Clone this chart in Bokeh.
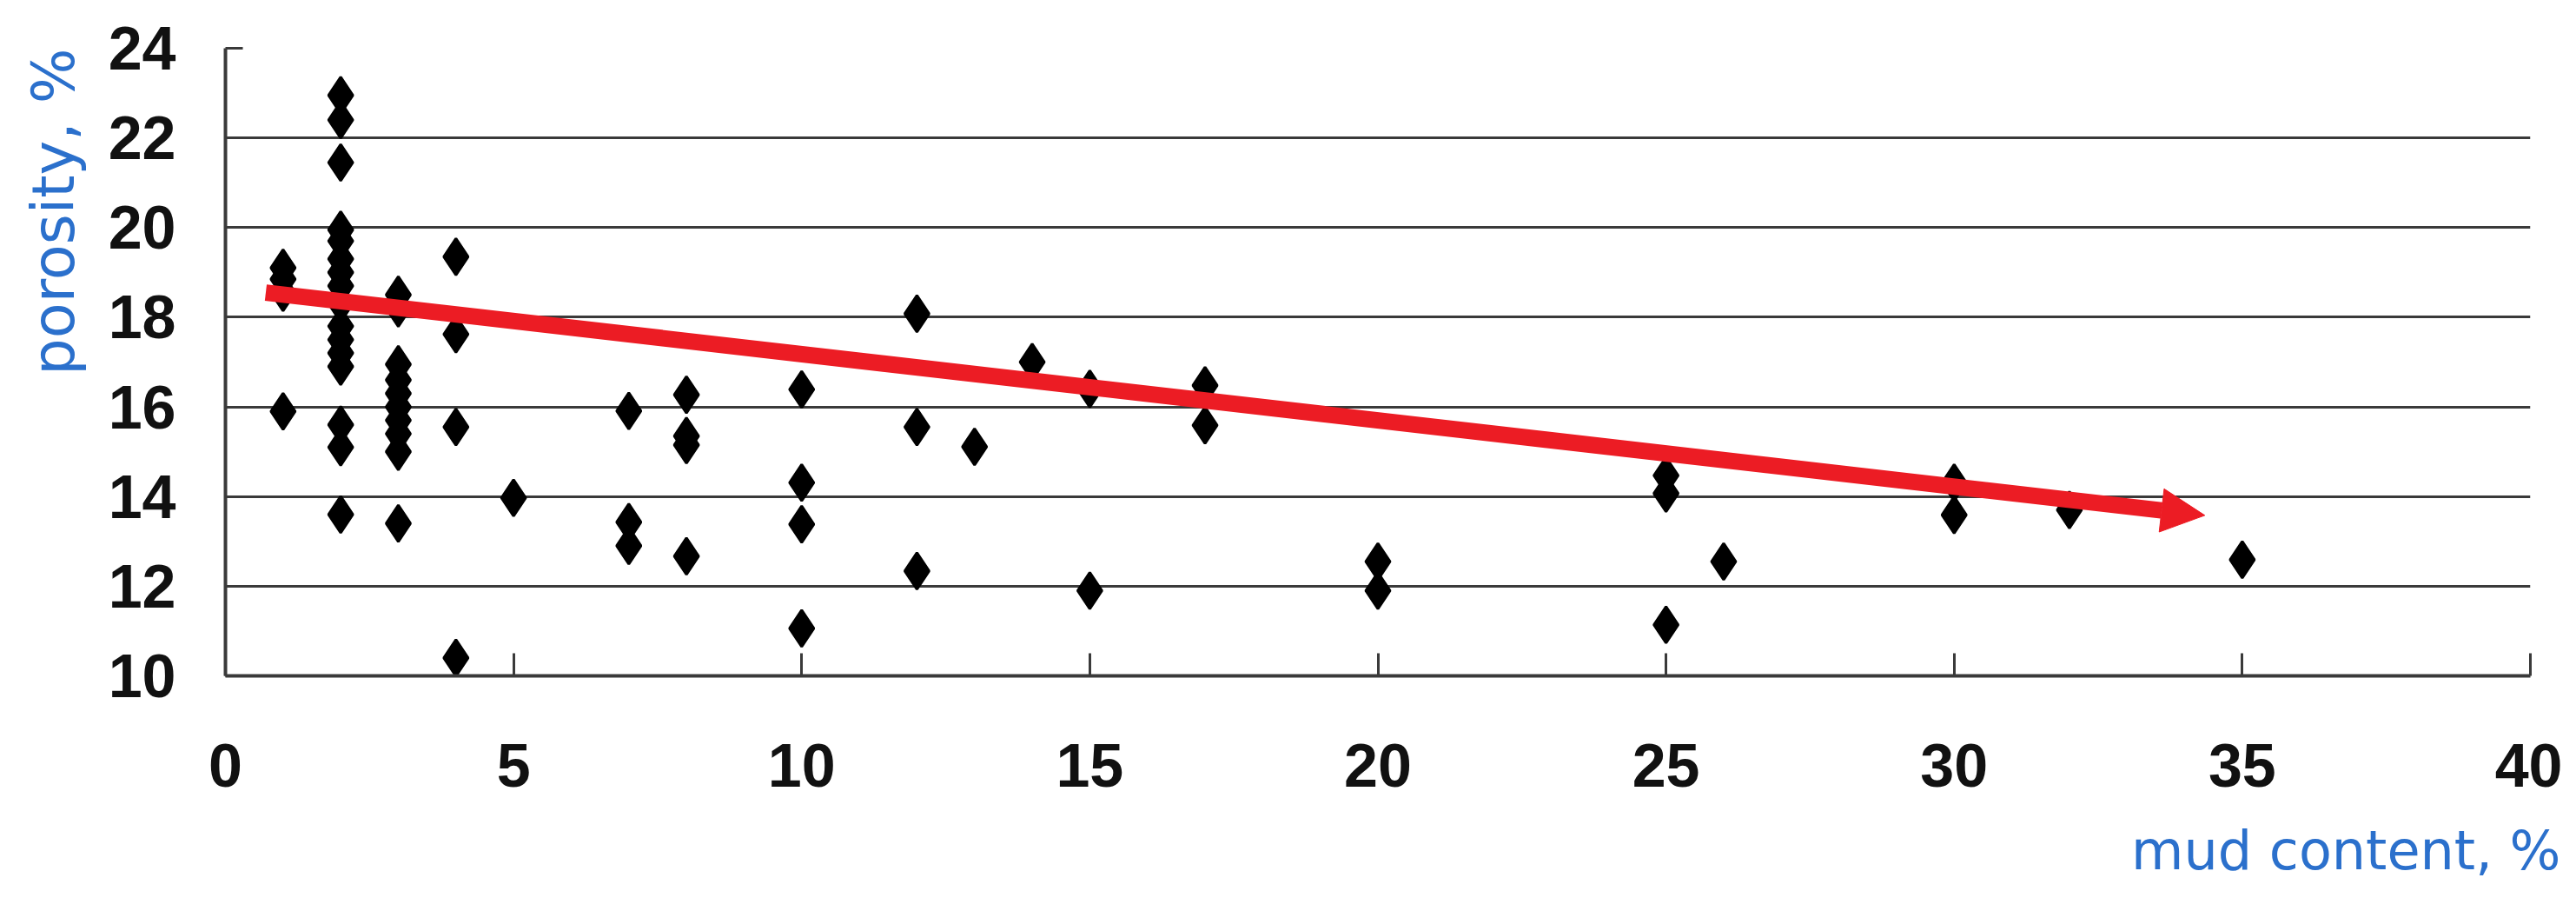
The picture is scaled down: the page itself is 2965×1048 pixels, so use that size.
import math
from bokeh.plotting import figure
from bokeh.models import FixedTicker, Arrow, NormalHead, ColumnDataSource, Range1d, Title
from bokeh.embed import file_html
from bokeh.resources import INLINE

# ---- data ----
mud_content = [1, 1, 1, 1,
               2, 2, 2, 2, 2, 2, 2, 2, 2, 2, 2, 2, 2, 2, 2, 2,
               3, 3, 3, 3, 3, 3, 3, 3, 3, 3,
               4, 4, 4, 4,
               5,
               7, 7, 7,
               8, 8, 8, 8,
               10, 10, 10, 10,
               12, 12, 12,
               13,
               14,
               15, 15,
               17, 17,
               20, 20,
               25, 25, 25,
               26,
               30, 30,
               32,
               35]
porosity = [19.1, 18.85, 18.55, 15.9,
            22.95, 22.4, 21.45, 19.95, 19.7, 19.3, 19.0, 18.7, 18.3, 17.8, 17.5, 17.2, 16.9, 15.6, 15.1, 13.6,
            18.5, 18.2, 16.95, 16.6, 16.3, 16.0, 15.7, 15.4, 15.0, 13.4,
            19.35, 17.62, 15.55, 10.4,
            13.97,
            15.91, 13.43, 12.9,
            16.27, 15.35, 15.15, 12.67,
            16.39, 14.31, 13.38, 11.06,
            18.08, 15.55, 12.34,
            15.11,
            17.0,
            16.4, 11.9,
            16.48, 15.59,
            12.55, 11.9,
            14.47, 14.07, 11.14,
            12.55,
            14.31, 13.59,
            13.7,
            12.59]

trend_x = [0.7, 34.35]
trend_y = [18.55, 13.58]

x_ticks = [0, 5, 10, 15, 20, 25, 30, 35, 40]
y_ticks = [10, 12, 14, 16, 18, 20, 22, 24]
grid_levels = [12, 14, 16, 18, 20, 22]

x_title = "mud content, %"
y_title = "porosity, %"

# ---- styling ----
AXIS_COLOR = "#3a3a3a"
RED = "#ec1c24"
BLUE = "#2b70cc"
TICK_FONT = "Liberation Sans"

p = figure(width=2949, height=1046,
           x_range=Range1d(0, 40), y_range=Range1d(10, 24),
           output_backend="svg", toolbar_location=None,
           min_border_left=258, min_border_right=37,
           min_border_top=55, min_border_bottom=269)
p.outline_line_color = None
p.background_fill_color = "white"
p.border_fill_color = "white"

p.xgrid.visible = False
p.ygrid.ticker = FixedTicker(ticks=grid_levels)
p.ygrid.grid_line_color = AXIS_COLOR
p.ygrid.grid_line_width = 3

for ax, ticks in ((p.xaxis, x_ticks), (p.yaxis, y_ticks)):
    ax.ticker = FixedTicker(ticks=ticks)
    ax.axis_line_color = AXIS_COLOR
    ax.axis_line_width = 4
    ax.major_tick_line_color = AXIS_COLOR
    ax.major_tick_line_width = 3
    ax.major_tick_out = 0
    ax.minor_tick_line_color = None
    ax.major_label_text_font = TICK_FONT
    ax.major_label_text_font_style = "bold"
    ax.major_label_text_font_size = "70px"
    ax.major_label_text_color = "#111111"

p.xaxis.major_tick_in = 26
p.xaxis.major_label_standoff = 78
p.yaxis.major_tick_in = 20
p.yaxis.major_label_standoff = 57

p.add_layout(Title(text=y_title, align="right", offset=0,
                   text_font="DejaVu Sans", text_font_style="normal",
                   text_font_size="67px", text_color=BLUE, standoff=41), "left")

p.add_layout(Title(text=x_title, align="right", offset=-35,
                   text_font="DejaVu Sans", text_font_style="normal",
                   text_font_size="62px", text_color=BLUE, standoff=64), "below")

src = ColumnDataSource(data=dict(x=mud_content, y=porosity))
p.scatter("x", "y", source=src, marker="diamond", size=42,
          fill_color="black", line_color="black", line_width=3)

p.add_layout(Arrow(end=NormalHead(size=50, fill_color=RED, line_color=RED, line_width=1),
                   x_start=trend_x[0], y_start=trend_y[0],
                   x_end=trend_x[1], y_end=trend_y[1],
                   line_color=RED, line_width=19))

open("out.html", "w").write(file_html(p, INLINE))
